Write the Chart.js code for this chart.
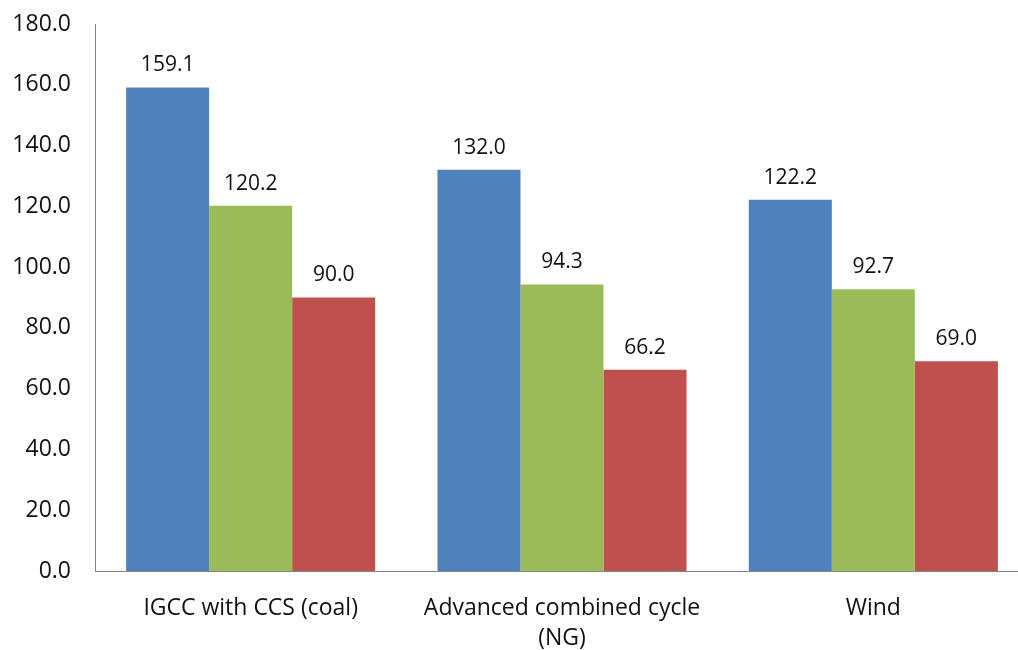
<!DOCTYPE html>
<html>
<head>
<meta charset="utf-8">
<script src="https://cdn.jsdelivr.net/npm/chart.js@4"></script>
<style>
  html, body { margin: 0; padding: 0; background: #fff; overflow: hidden; }
  #wrap { width: 1018px; height: 650px; overflow: hidden; }
  #box { width: 1030px; height: 650px; position: relative; }
</style>
</head>
<body>
<div id="wrap"><div id="box"><canvas id="cost-chart"></canvas></div></div>
<script>
// Levelized cost by technology, three scenarios
const categories = [['IGCC with CCS (coal)'], ['Advanced combined cycle', '(NG)'], ['Wind']];
const seriesA = [159.1, 132.0, 122.2];
const seriesB = [120.2, 94.3, 92.7];
const seriesC = [90.0, 66.2, 69.0];
const yTicks = [0, 20, 40, 60, 80, 100, 120, 140, 160, 180];

const FONT = "'Open Sans', 'Liberation Sans', sans-serif";

// writes each bar's value above it
const valueLabels = {
    id: 'valueLabels',
    afterDatasetsDraw(chart) {
        const ctx = chart.ctx;
        ctx.save();
        ctx.font = '21px ' + FONT;
        ctx.fillStyle = '#111';
        ctx.textAlign = 'center';
        ctx.textBaseline = 'middle';
        chart.data.datasets.forEach((ds, i) => {
            chart.getDatasetMeta(i).data.forEach((bar, j) => {
                ctx.fillText(ds.data[j].toFixed(1), bar.x, bar.y - 22);
            });
        });
        ctx.restore();
    }
};

new Chart(document.getElementById('cost-chart'), {
    type: 'bar',
    data: {
        labels: categories,
        datasets: [
            { data: seriesA, backgroundColor: '#4f81bd' },
            { data: seriesB, backgroundColor: '#9bbb59' },
            { data: seriesC, backgroundColor: '#c0504d' }
        ]
    },
    options: {
        responsive: true,
        maintainAspectRatio: false,
        animation: false,
        layout: { padding: { top: 0, right: 1, left: 0, bottom: 0 } },
        datasets: { bar: { categoryPercentage: 0.8, barPercentage: 1.0, borderWidth: 0 } },
        plugins: { legend: { display: false }, tooltip: { enabled: false } },
        scales: {
            x: {
                grid: { display: false },
                border: { display: true, color: '#868686', width: 1 },
                ticks: { color: '#111', font: { family: FONT, size: 23, lineHeight: 1.3 }, padding: 15, maxRotation: 0 },
                afterFit(scale) { scale.height = 79; }
            },
            y: {
                min: 0,
                max: 180,
                afterBuildTicks(scale) { scale.ticks = yTicks.map(v => ({ value: v })); },
                grid: { display: false },
                border: { display: true, color: '#868686', width: 1 },
                ticks: {
                    color: '#111',
                    font: { family: FONT, size: 23 },
                    padding: 16,
                    callback: v => v.toFixed(1)
                },
                afterFit(scale) {
                    scale.width = 95;
                    scale.paddingTop = 24;
                }
            }
        }
    },
    plugins: [valueLabels]
});
</script>
</body>
</html>
